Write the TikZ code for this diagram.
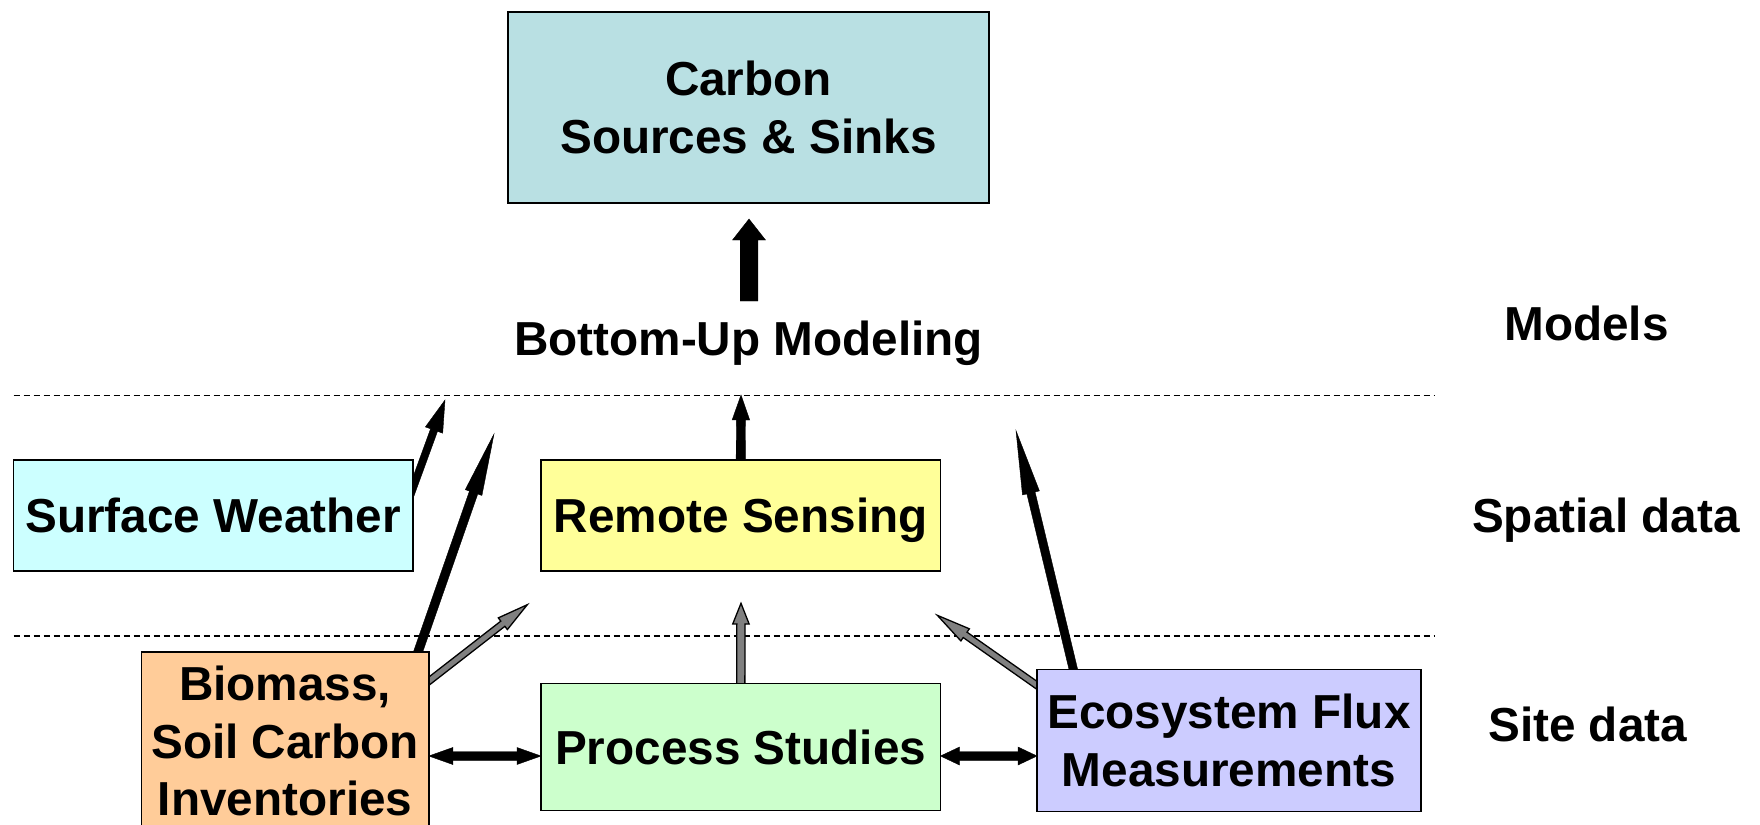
\documentclass[tikz,border=0pt]{standalone}
\usepackage{fontspec}
\setmainfont{Liberation Sans}
\usetikzlibrary{calc,backgrounds}
\pgfdeclarelayer{paper}
\pgfdeclarelayer{background}
\pgfsetlayers{paper,background,main}
\definecolor{cteal}{HTML}{B9E0E3}
\definecolor{cweather}{HTML}{CCFFFF}
\definecolor{cremote}{HTML}{FFFF99}
\definecolor{cbio}{HTML}{FFCC99}
\definecolor{cproc}{HTML}{CCFFCC}
\definecolor{ceco}{HTML}{CCCCFF}
\definecolor{cgrayarrow}{HTML}{808080}
\newcommand\bxfont{\fontsize{47.7}{57.5}\selectfont\bfseries}
% block arrow: style, tail, tip, half shaft, half head, head length
\newcommand\blkarrow[6]{%
  \coordinate (bac) at ($(#3)!#6!(#2)$);
  \path[#1] ($(#2)!#4!90:(#3)$) -- ($(bac)!#4!90:(#3)$) -- ($(bac)!#5!90:(#3)$) -- (#3)
    -- ($(bac)!#5!-90:(#3)$) -- ($(bac)!#4!-90:(#3)$) -- ($(#2)!#4!-90:(#3)$) -- cycle;
}
% double headed block arrow: style, a, b, half shaft, half head, head length
\newcommand\dblarrow[6]{%
  \coordinate (dac) at ($(#2)!#6!(#3)$);
  \coordinate (dbc) at ($(#3)!#6!(#2)$);
  \path[#1] (#2) -- ($(dac)!#5!90:(#3)$) -- ($(dac)!#4!90:(#3)$) -- ($(dbc)!#4!90:(#3)$)
    -- ($(dbc)!#5!90:(#3)$) -- (#3) -- ($(dbc)!#5!-90:(#3)$) -- ($(dbc)!#4!-90:(#3)$)
    -- ($(dac)!#4!-90:(#3)$) -- ($(dac)!#5!-90:(#3)$) -- cycle;
}
\tikzset{
  box/.style={draw=black, line width=1.8pt, inner sep=0pt, align=center, font=\bxfont},
  capc/.style={text height=34.2pt, text depth=0pt},
  lbl/.style={inner sep=0pt, font=\bxfont, capc},
  sep/.style={draw=black, line width=1.3pt, dash pattern=on 6pt off 4pt},
  blackarrow/.style={fill=black, draw=black, line width=0.4pt, line join=miter},
  grayarrow/.style={fill=cgrayarrow, draw=black, line width=1.3pt, line join=miter}
}
\begin{document}
\begin{tikzpicture}[x=1pt, y=-1pt]
\useasboundingbox (0,0) rectangle (1760,824);
\begin{pgfonlayer}{paper}
\fill[white] (0,0) rectangle (1760,824);
\end{pgfonlayer}

% boxes
\node[box, fill=cteal, minimum width=481pt, minimum height=191pt] (carbon) at (748.5,107.5) {Carbon\\Sources \& Sinks};
\node[box, capc, fill=cweather, minimum width=399.5pt, minimum height=111pt] (sw) at (213.25,515.5) {Surface Weather};
\node[box, capc, fill=cremote, minimum width=399.5pt, minimum height=111pt] (rs) at (740.75,515.5) {Remote Sensing};
\node[box, fill=cbio, minimum width=287.4pt, minimum height=178pt] (bio) at (285.1,741) {Biomass,\\Soil Carbon\\Inventories};
\node[box, capc, fill=cproc, minimum width=399.5pt, minimum height=127pt] (ps) at (740.75,747) {Process Studies};
\node[box, fill=ceco, minimum width=384pt, minimum height=142pt] (eco) at (1229,740.5) {Ecosystem Flux\\Measurements};

% labels
\node[lbl] (bum) at (748.6,338) {Bottom-Up Modeling};
\node[lbl] (models) at (1586.5,323) {Models};
\node[lbl] (spatial) at (1606,515) {Spatial data};
\node[lbl] (site) at (1587.6,724) {Site data};

% connector end points
\coordinate (bigT) at (749,301);
\coordinate (bigH) at (749,219);
\coordinate (rsH) at (741,395);
\coordinate (swT) at (406,507);
\coordinate (swH) at (445,400);
\coordinate (bioT) at (412.8,667);
\coordinate (bioH) at (494,434);
\coordinate (biogT) at (420.6,687.6);
\coordinate (biogH) at (527.3,604.7);
\coordinate (psH) at (741,603.3);
\coordinate (ecogT) at (1044.7,690.8);
\coordinate (ecogH) at (937.3,615.3);
\coordinate (ecoT) at (1075.8,679.7);
\coordinate (ecoH) at (1016,430.7);
\coordinate (dl1) at (428.8,756);
\coordinate (dl2) at (541,756);
\coordinate (dr1) at (940.5,756);
\coordinate (dr2) at (1037,756);

\begin{pgfonlayer}{background}
  \draw[sep] (13.5,395.5) -- (1434,395.5);
  \draw[sep] (13.5,636) -- (1434,636);
  \blkarrow{blackarrow}{bigT}{bigH}{8.8pt}{16.5pt}{21pt}
  \blkarrow{blackarrow}{[yshift=-6pt]rs.north}{rsH}{4.6pt}{8.8pt}{25pt}
  \blkarrow{blackarrow}{swT}{swH}{3.7pt}{9.2pt}{32pt}
  \blkarrow{blackarrow}{bioT}{bioH}{4.4pt}{8.8pt}{62pt}
  \blkarrow{blackarrow}{ecoT}{ecoH}{4.2pt}{8.7pt}{64pt}
  \blkarrow{grayarrow}{biogT}{biogH}{3.3pt}{7.4pt}{31pt}
  \blkarrow{grayarrow}{[yshift=-6pt]ps.north}{psH}{4.1pt}{8.2pt}{20.7pt}
  \blkarrow{grayarrow}{ecogT}{ecogH}{3.3pt}{7.4pt}{34pt}
  \dblarrow{blackarrow}{dl1}{dl2}{4.5pt}{8.5pt}{24pt}
  \dblarrow{blackarrow}{dr1}{dr2}{4.5pt}{9pt}{19pt}
\end{pgfonlayer}
\end{tikzpicture}
\end{document}
